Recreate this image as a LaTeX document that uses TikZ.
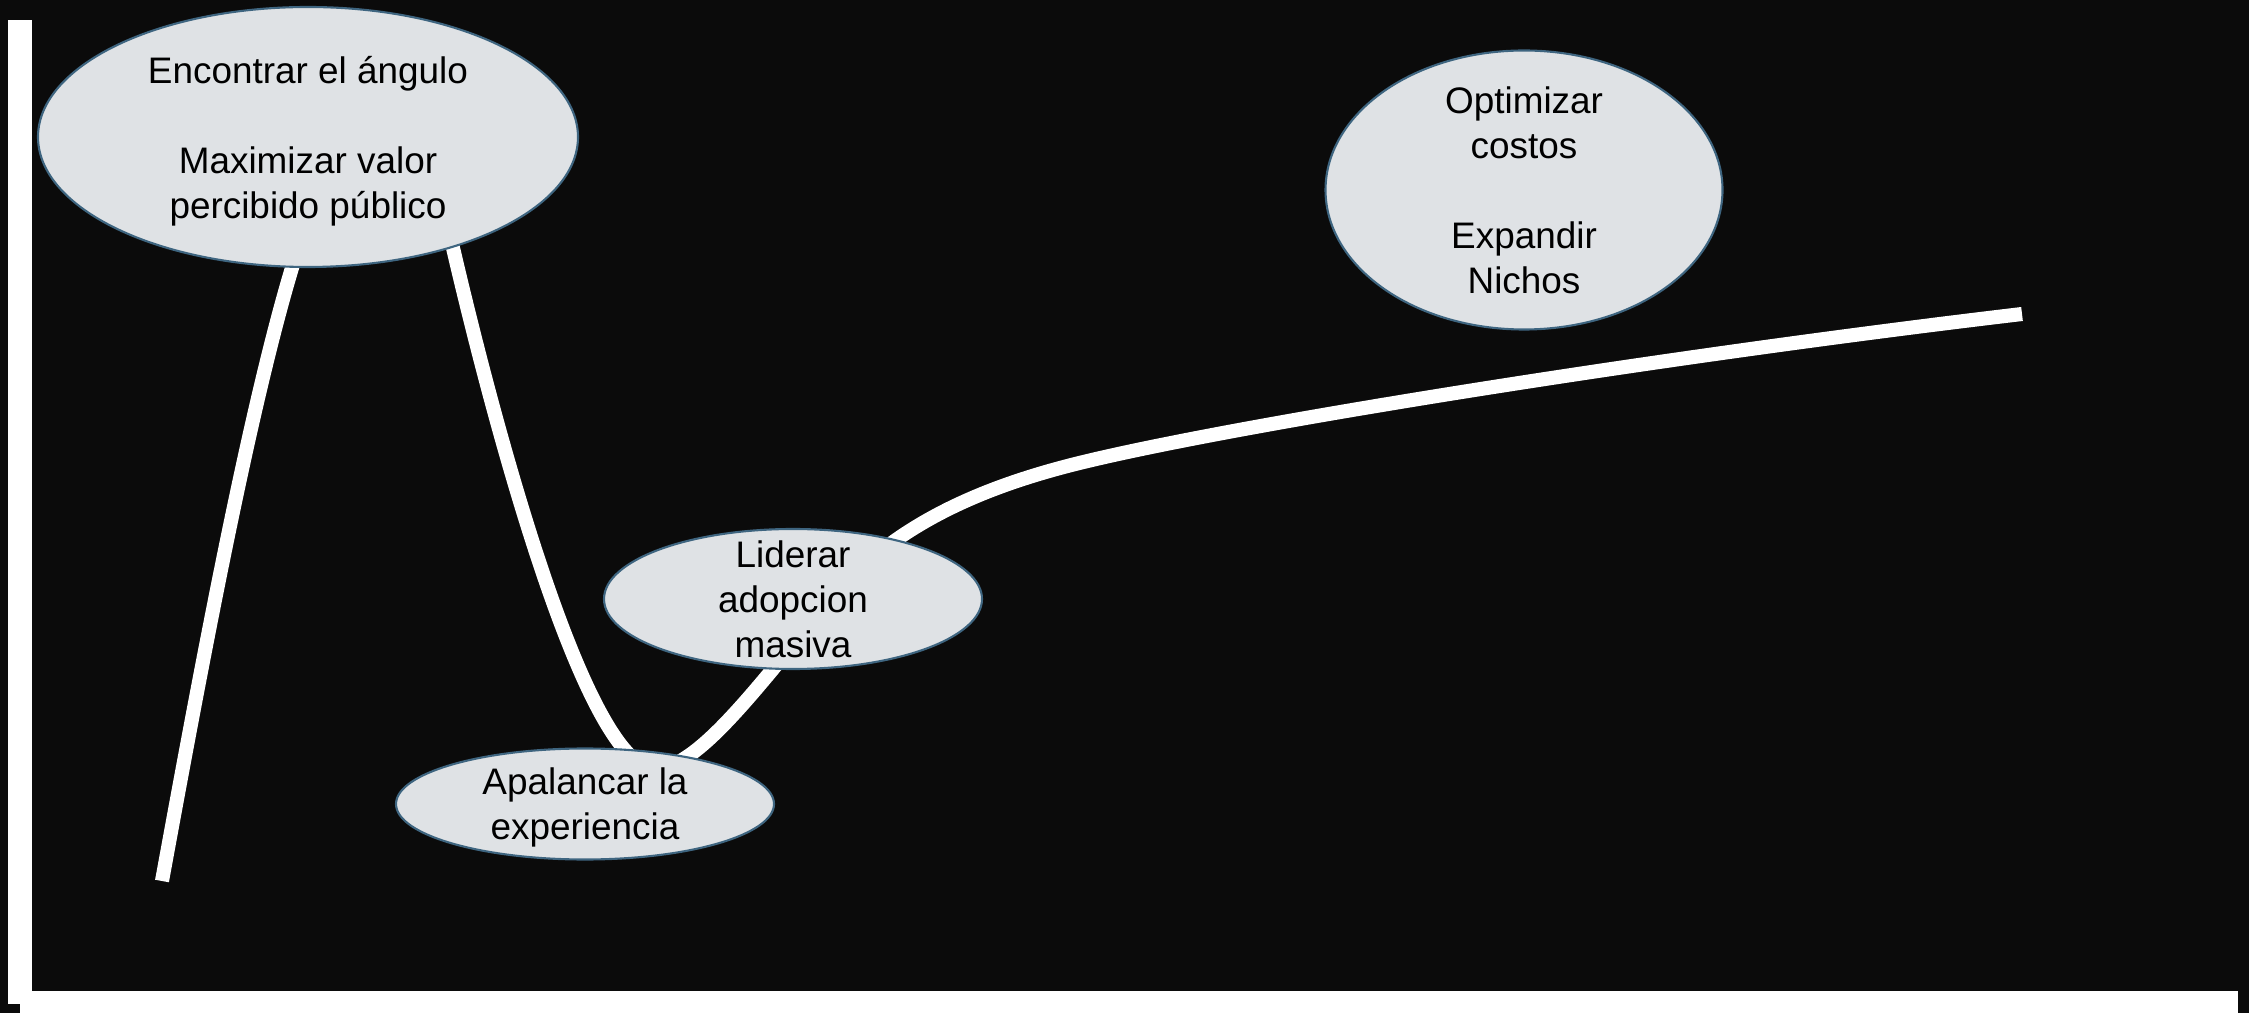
\documentclass[tikz,border=0pt]{standalone}
\usepackage{fontspec}
\setmainfont{Liberation Sans}
\usetikzlibrary{shapes.geometric}
\pgfdeclarelayer{bg}
\pgfsetlayers{bg,main}
\definecolor{fondo}{HTML}{0B0B0B}
\definecolor{burbuja}{HTML}{DFE2E5}
\definecolor{borde}{HTML}{3E6580}
\tikzset{
    every node/.style={ellipse, inner sep=0mm, draw=borde, line width=0.6pt, fill=burbuja,
        align=center, text=black, text depth=0pt, font=\fontsize{10.5}{12.8}\selectfont}
}
\tikzset{curva/.style={white, line width=4pt, line cap=butt}}

\begin{document}
\begin{tikzpicture}
        \useasboundingbox (0,0) rectangle (22.49,10.13);
        \node (enc) [minimum width=5.40cm, minimum height=2.60cm] at (3.080000cm, 8.760000cm) {Encontrar el ángulo\\ \\ Maximizar valor\\ percibido público};
        \node (opt) [minimum width=3.97cm, minimum height=2.79cm, inner ysep=-2pt] at (15.240000cm, 8.230000cm) {Optimizar\\ costos\\ \\ Expandir\\ Nichos};
        \node (lid) [minimum width=3.78cm, minimum height=1.40cm, inner ysep=-3pt] at (7.930000cm, 4.140000cm) {Liderar\\ adopcion\\ masiva};
        \node (apa) [minimum width=3.78cm, minimum height=1.11cm] at (5.850000cm, 2.090000cm) {Apalancar la\\ experiencia};
        \begin{pgfonlayer}{bg}
                \fill[fondo] (0,0) rectangle (22.49,10.13);
                \fill[white] (0.08,0.09) rectangle (0.32,9.93);
                \fill[white] (0.20,0) rectangle (22.38,0.22);
                \draw[curva] (1.62,1.32) .. controls (2.00,3.40) and (2.50,6.10) .. (2.95,7.55)
                        .. controls (3.20,8.36) and (4.27,8.80) .. (4.45,8.00)
                        .. controls (4.90,6.00) and (5.85,2.42) .. (6.56,2.44)
                        .. controls (7.00,2.46) and (7.60,3.30) .. (8.30,4.13)
                        .. controls (8.85,4.78) and (9.60,5.18) .. (10.60,5.45)
                        .. controls (12.00,5.83) and (16.50,6.55) .. (20.22,6.99);
        \end{pgfonlayer}
\end{tikzpicture}
\end{document}
